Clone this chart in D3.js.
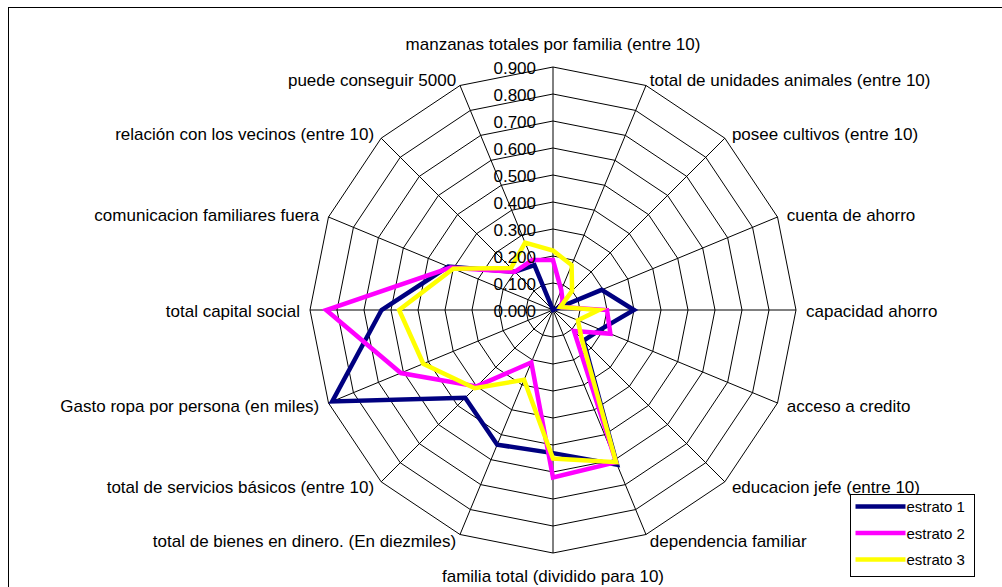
<!DOCTYPE html>
<html>
<head>
<meta charset="utf-8">
<script src="https://cdn.jsdelivr.net/npm/d3@7/dist/d3.min.js"></script>
<style>
  body { margin: 0; background: #fff; }
  text { font-family: "Liberation Sans", Arial, sans-serif; fill: #000; }
</style>
</head>
<body>
<script>
var categories = [
    "manzanas totales por familia (entre 10)",
    "total de unidades animales (entre 10)",
    "posee cultivos (entre 10)",
    "cuenta de ahorro",
    "capacidad ahorro",
    "acceso a credito",
    "educacion jefe (entre 10)",
    "dependencia familiar",
    "familia total (dividido para 10)",
    "total de bienes en dinero. (En diezmiles)",
    "total de servicios básicos (entre 10)",
    "Gasto ropa por persona (en miles)",
    "total capital social",
    "comunicacion familiares fuera",
    "relación con los vecinos (entre 10)",
    "puede conseguir 5000"
];
var seriesNames = ["estrato 1", "estrato 2", "estrato 3"];
var estrato1 = [0, 0, 0, 0.195, 0.30, 0.19, 0.16, 0.62, 0.53, 0.54, 0.46, 0.885, 0.635, 0.42, 0.20, 0.18];
var estrato2 = [0.185, 0.08, 0.05, 0.03, 0.20, 0.23, 0.11, 0.61, 0.62, 0.21, 0.40, 0.61, 0.84, 0.41, 0.20, 0.20];
var estrato3 = [0.22, 0.18, 0.10, 0.03, 0.17, 0.10, 0.15, 0.61, 0.55, 0.28, 0.41, 0.52, 0.57, 0.40, 0.22, 0.27];
var tickValues = [0, 0.1, 0.2, 0.3, 0.4, 0.5, 0.6, 0.7, 0.8, 0.9];
var seriesColors = ["#000080", "#ff00ff", "#ffff00"];

var width = 1002, height = 587;
var cx = 553, cy = 310, radius = 243;

var svg = d3.select("body").append("svg")
    .attr("width", width)
    .attr("height", height);

// outer chart frame (right and bottom edges fall outside the picture)
svg.append("rect")
    .attr("x", 8.5).attr("y", 7.5)
    .attr("width", 1000).attr("height", 600)
    .attr("fill", "#fff")
    .attr("stroke", "#000")
    .attr("stroke-width", 1);

var rScale = d3.scaleLinear().domain([0, 0.9]).range([0, radius]);
var angle = d3.scaleLinear().domain([0, categories.length]).range([0, 2 * Math.PI]);

function point(i, v) {
    var a = angle(i);
    return [cx + rScale(v) * Math.sin(a), cy - rScale(v) * Math.cos(a)];
}

var g = svg.append("g");

// rings
g.selectAll(".ring")
    .data(tickValues.slice(1))
    .enter().append("polygon")
    .attr("class", "ring")
    .attr("points", function(v) {
        return categories.map(function(c, i) { return point(i, v).join(","); }).join(" ");
    })
    .attr("fill", "none")
    .attr("stroke", "#000")
    .attr("stroke-width", 1);

// spokes
g.selectAll(".spoke")
    .data(categories)
    .enter().append("line")
    .attr("class", "spoke")
    .attr("x1", cx).attr("y1", cy)
    .attr("x2", function(d, i) { return point(i, 0.9)[0]; })
    .attr("y2", function(d, i) { return point(i, 0.9)[1]; })
    .attr("stroke", "#000")
    .attr("stroke-width", 1);

// category labels
g.selectAll(".cat")
    .data(categories)
    .enter().append("text")
    .attr("class", "cat")
    .style("font-size", "17px")
    .attr("dominant-baseline", "central")
    .attr("text-anchor", function(d, i) {
        var s = Math.sin(angle(i));
        return Math.abs(s) < 0.1 ? "middle" : (s > 0 ? "start" : "end");
    })
    .attr("x", function(d, i) { return cx + (radius + 10) * Math.sin(angle(i)); })
    .attr("y", function(d, i) {
        var a = angle(i), c = Math.cos(a);
        var y = cy - (radius + 10) * c;
        if (Math.abs(Math.sin(a)) < 0.1) return y - 13 * c;
        return y + 1 + 3 * c;
    })
    .text(function(d) { return d; });

// series
var seriesData = [estrato1, estrato2, estrato3];
var line = d3.line()
    .x(function(d) { return point(d.i, d.v)[0]; })
    .y(function(d) { return point(d.i, d.v)[1]; })
    .curve(d3.curveLinearClosed);

g.selectAll(".series")
    .data(seriesData)
    .enter().append("path")
    .attr("class", "series")
    .attr("d", function(s) { return line(s.map(function(v, i) { return {i: i, v: v}; })); })
    .attr("fill", "none")
    .attr("stroke", function(d, i) { return seriesColors[i]; })
    .attr("stroke-width", 4.5)
    .attr("stroke-linejoin", "miter");

// value ticks up the first spoke, drawn over the lines
g.selectAll(".tick")
    .data(tickValues)
    .enter().append("text")
    .attr("class", "tick")
    .style("font-size", "17px")
    .attr("text-anchor", "end")
    .attr("dominant-baseline", "central")
    .attr("x", cx - 17)
    .attr("y", function(v) { return cy - rScale(v) + 1; })
    .text(function(v) { return d3.format(".3f")(v); });

// legend
var legend = svg.append("g").attr("transform", "translate(850.5,494.5)");
legend.append("rect")
    .attr("width", 124).attr("height", 82)
    .attr("fill", "#fff")
    .attr("stroke", "#000")
    .attr("stroke-width", 1);

var item = legend.selectAll(".item")
    .data(seriesNames)
    .enter().append("g")
    .attr("class", "item")
    .attr("transform", function(d, i) { return "translate(0," + (12 + i * 26.5) + ")"; });

item.append("line")
    .attr("x1", 5).attr("x2", 55)
    .attr("stroke", function(d, i) { return seriesColors[i]; })
    .attr("stroke-width", 4.5);

item.append("text")
    .attr("x", 56)
    .attr("dominant-baseline", "central")
    .style("font-size", "15px")
    .text(function(d) { return d; });
</script>
</body>
</html>
